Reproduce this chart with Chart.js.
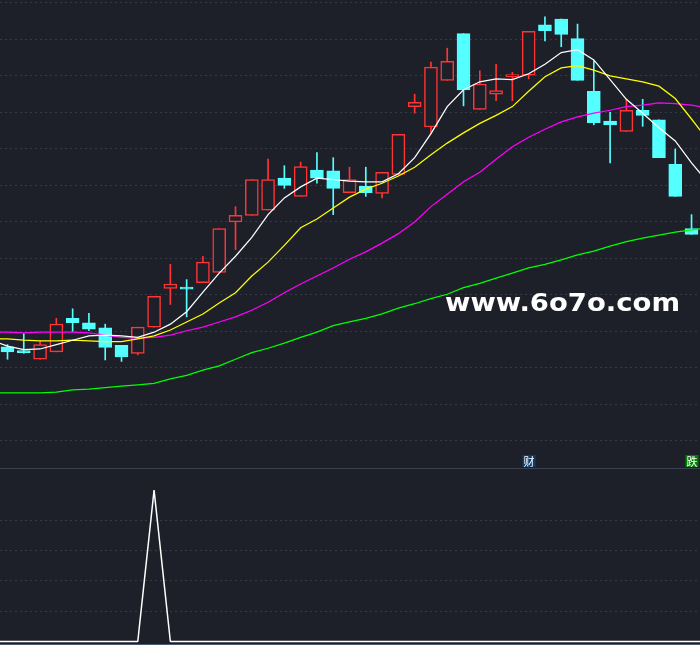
<!DOCTYPE html>
<html lang="zh-CN">
<head>
<meta charset="utf-8">
<title>K线</title>
<script src="https://cdn.jsdelivr.net/npm/chart.js@4.4.1/dist/chart.umd.min.js"></script>
<style>
    html, body { margin: 0; padding: 0; background: #1e2029; }
    #wrap { position: relative; width: 700px; height: 645px; overflow: hidden; background: #1e2029; }
    #price-box { position: absolute; left: 0; top: 0; width: 700px; height: 468px; }
    #sep { position: absolute; left: 0; top: 468px; width: 700px; height: 1px; background: #3a4150; }
    #signal-box { position: absolute; left: 0; top: 469px; width: 700px; height: 175px; }
    #foot { position: absolute; left: 0; top: 644px; width: 700px; height: 1px; background: #4a5b72; }
</style>
</head>
<body>
<div id="wrap">
    <div id="price-box"><canvas id="price-chart" width="700" height="468"></canvas></div>
    <div id="sep"></div>
    <div id="signal-box"><canvas id="signal-chart" width="700" height="175"></canvas></div>
    <div id="foot"></div>
</div>
<script>
// daily candles, day 0 .. 42
const openPrices  = [11.29, 11.22, 11.12, 11.22, 11.68, 11.62, 11.55, 11.31, 11.20, 11.56, 12.09, 12.10, 12.17, 12.31, 13.00, 13.09, 13.16, 13.60, 13.35, 13.71, 13.70, 13.40, 13.49, 13.39, 13.65, 14.58, 14.30, 14.94, 15.58, 14.54, 14.75, 14.99, 15.01, 15.70, 15.78, 15.51, 14.79, 14.38, 14.24, 14.53, 14.40, 13.79, 12.91];
const highPrices  = [11.32, 11.47, 11.37, 11.68, 11.81, 11.75, 11.60, 11.31, 11.56, 11.98, 12.42, 12.21, 12.53, 12.91, 13.21, 13.58, 13.86, 13.77, 13.82, 13.95, 13.88, 13.75, 13.75, 13.68, 14.20, 14.75, 15.19, 15.38, 15.58, 15.07, 15.16, 15.05, 15.61, 15.81, 15.78, 15.71, 15.21, 14.50, 14.68, 14.68, 14.40, 14.00, 13.10];
const lowPrices   = [11.12, 11.20, 11.12, 11.22, 11.50, 11.51, 11.11, 11.09, 11.18, 11.56, 11.87, 11.70, 12.17, 12.31, 12.62, 13.09, 13.16, 13.46, 13.35, 13.53, 13.10, 13.40, 13.35, 13.33, 13.65, 14.49, 14.21, 14.94, 14.59, 14.54, 14.66, 14.66, 14.96, 15.48, 15.40, 14.94, 14.33, 13.81, 14.24, 14.31, 13.88, 13.35, 12.83];
const closePrices = [11.22, 11.21, 11.32, 11.60, 11.62, 11.53, 11.28, 11.15, 11.56, 11.98, 12.15, 12.08, 12.45, 12.91, 13.09, 13.58, 13.58, 13.50, 13.76, 13.60, 13.46, 13.58, 13.40, 13.68, 14.20, 14.64, 15.12, 15.20, 14.81, 14.89, 14.80, 15.02, 15.61, 15.62, 15.57, 14.94, 14.36, 14.33, 14.53, 14.46, 13.88, 13.35, 12.83];

// moving averages and signal, day -1 .. 43 (one day beyond each edge)
const maFirstDay = -1;
const ma5  = [11.38, 11.30, 11.25, 11.26, 11.32, 11.38, 11.44, 11.45, 11.44, 11.42, 11.49, 11.60, 11.77, 12.04, 12.30, 12.53, 12.79, 13.10, 13.33, 13.48, 13.60, 13.58, 13.56, 13.55, 13.55, 13.66, 13.88, 14.21, 14.58, 14.81, 14.92, 14.96, 14.95, 15.03, 15.16, 15.32, 15.36, 15.22, 14.95, 14.68, 14.49, 14.29, 14.11, 13.81, 13.54];
const ma10 = [11.40, 11.40, 11.38, 11.37, 11.37, 11.38, 11.37, 11.36, 11.36, 11.40, 11.44, 11.52, 11.63, 11.74, 11.89, 12.03, 12.26, 12.45, 12.68, 12.92, 13.04, 13.19, 13.34, 13.45, 13.53, 13.63, 13.75, 13.92, 14.08, 14.22, 14.35, 14.46, 14.58, 14.79, 14.99, 15.11, 15.14, 15.08, 15.00, 14.96, 14.92, 14.86, 14.69, 14.41, 14.12];
const ma20 = [11.49, 11.49, 11.48, 11.49, 11.49, 11.49, 11.48, 11.45, 11.42, 11.41, 11.42, 11.45, 11.51, 11.56, 11.63, 11.70, 11.79, 11.90, 12.03, 12.15, 12.26, 12.37, 12.49, 12.59, 12.71, 12.84, 13.00, 13.21, 13.38, 13.55, 13.68, 13.86, 14.03, 14.16, 14.27, 14.37, 14.44, 14.49, 14.53, 14.58, 14.60, 14.63, 14.62, 14.60, 14.56];
const ma60 = [10.66, 10.66, 10.66, 10.66, 10.67, 10.70, 10.71, 10.73, 10.75, 10.77, 10.79, 10.85, 10.90, 10.97, 11.03, 11.12, 11.21, 11.27, 11.34, 11.42, 11.49, 11.58, 11.63, 11.68, 11.74, 11.82, 11.88, 11.95, 12.01, 12.10, 12.16, 12.23, 12.30, 12.37, 12.42, 12.48, 12.55, 12.60, 12.67, 12.73, 12.78, 12.82, 12.86, 12.89, 12.92];
const signal = [0, 0, 0, 0, 0, 0, 0, 0, 0, 0, 100, 0, 0, 0, 0, 0, 0, 0, 0, 0, 0, 0, 0, 0, 0, 0, 0, 0, 0, 0, 0, 0, 0, 0, 0, 0, 0, 0, 0, 0, 0, 0, 0, 0, 0];

// grid levels
const priceGrid = [10.0, 10.5, 11.0, 11.5, 12.0, 12.5, 13.0, 13.5, 14.0, 14.5, 15.0, 15.5, 16.0];
const signalGrid = [20, 40, 60, 80];

// markers above the lower panel
const markerDays = [32, 42];
const markerTexts = ['财', '跌'];
const markerColors = ['#0c3c6e', '#008000'];

const BG = '#1e2029';
const UP = '#ff3434';
const DOWN = '#54ffff';
const GRID = '#363a46';

class KLineChart {
    constructor() {
        this.charts = {};
        this.init();
    }

    init() {
        this.createPriceChart();
        this.createSignalChart();
    }

    xAxis() {
        return { type: 'linear', min: -0.46, max: 42.52, display: false, offset: false };
    }

    yAxis(min, max, levels) {
        return {
            min: min,
            max: max,
            ticks: { display: false },
            grid: { color: GRID, lineWidth: 1, drawTicks: false },
            border: { display: false, dash: [2, 3] },
            afterBuildTicks: axis => {
                axis.ticks = levels.map(v => ({ value: v }));
            }
        };
    }

    maDataset(values, color) {
        return {
            type: 'line',
            data: values.map((v, k) => ({ x: k + maFirstDay, y: v })),
            borderColor: color,
            borderWidth: 1.25,
            pointRadius: 0,
            tension: 0,
            order: 1
        };
    }

    createPriceChart() {
        const rising = openPrices.map((o, i) => closePrices[i] >= o);

        const markerPlugin = {
            id: 'markers',
            afterDatasetsDraw(chart) {
                const { ctx, chartArea } = chart;
                const x = chart.scales.x;
                ctx.save();
                ctx.font = '11px "Noto Sans CJK SC"';
                ctx.textAlign = 'center';
                ctx.textBaseline = 'middle';
                markerDays.forEach((d, k) => {
                    const cx = Math.round(x.getPixelForValue(d));
                    const top = chartArea.bottom - 13;
                    ctx.fillStyle = markerColors[k];
                    ctx.fillRect(cx - 6.5, top, 13, 12);
                    ctx.fillStyle = '#ffffff';
                    ctx.fillText(markerTexts[k], cx, top + 6.5);
                });

                // watermark
                const text = 'www.6o7o.com';
                ctx.font = 'bold 24px "DejaVu Sans"';
                ctx.textAlign = 'left';
                ctx.textBaseline = 'alphabetic';
                const w = ctx.measureText(text).width;
                ctx.translate(445, 310.5);
                ctx.scale(235 / w, 1);
                ctx.fillStyle = '#ffffff';
                ctx.fillText(text, 0, 0);
                ctx.restore();
            }
        };

        const ctx = document.getElementById('price-chart').getContext('2d');
        this.charts.price = new Chart(ctx, {
            type: 'bar',
            data: {
                datasets: [{
                    // wicks
                    type: 'bar',
                    data: lowPrices.map((l, i) => ({ x: i, y: [l, highPrices[i]] })),
                    backgroundColor: rising.map(r => r ? UP : DOWN),
                    borderWidth: 0,
                    barThickness: 1,
                    grouped: false,
                    order: 3
                }, {
                    // bodies
                    type: 'bar',
                    data: openPrices.map((o, i) => ({ x: i, y: [o, closePrices[i]] })),
                    backgroundColor: rising.map(r => r ? BG : DOWN),
                    borderColor: rising.map(r => r ? UP : DOWN),
                    borderWidth: 1.5,
                    borderSkipped: false,
                    barThickness: 13,
                    minBarLength: 2,
                    grouped: false,
                    order: 2
                },
                this.maDataset(ma5, '#ffffff'),
                this.maDataset(ma10, '#ffff00'),
                this.maDataset(ma20, '#ff00ff'),
                this.maDataset(ma60, '#00ff00')]
            },
            options: {
                responsive: false,
                animation: false,
                events: [],
                layout: { padding: 0 },
                plugins: {
                    legend: { display: false },
                    tooltip: { enabled: false }
                },
                scales: {
                    x: this.xAxis(),
                    y: this.yAxis(9.63, 16.04, priceGrid)
                }
            },
            plugins: [markerPlugin]
        });
    }

    createSignalChart() {
        const ctx = document.getElementById('signal-chart').getContext('2d');
        this.charts.signal = new Chart(ctx, {
            type: 'line',
            data: {
                datasets: [{
                    data: signal.map((v, k) => ({ x: k + maFirstDay, y: v })),
                    borderColor: '#ffffff',
                    borderWidth: 1.5,
                    borderJoinStyle: 'bevel',
                    pointRadius: 0,
                    tension: 0
                }]
            },
            options: {
                responsive: false,
                animation: false,
                events: [],
                layout: { padding: 0 },
                plugins: {
                    legend: { display: false },
                    tooltip: { enabled: false }
                },
                scales: {
                    x: this.xAxis(),
                    y: this.yAxis(-1.65, 113.9, signalGrid)
                }
            }
        });
    }
}

window.klineChart = new KLineChart();
</script>
</body>
</html>
